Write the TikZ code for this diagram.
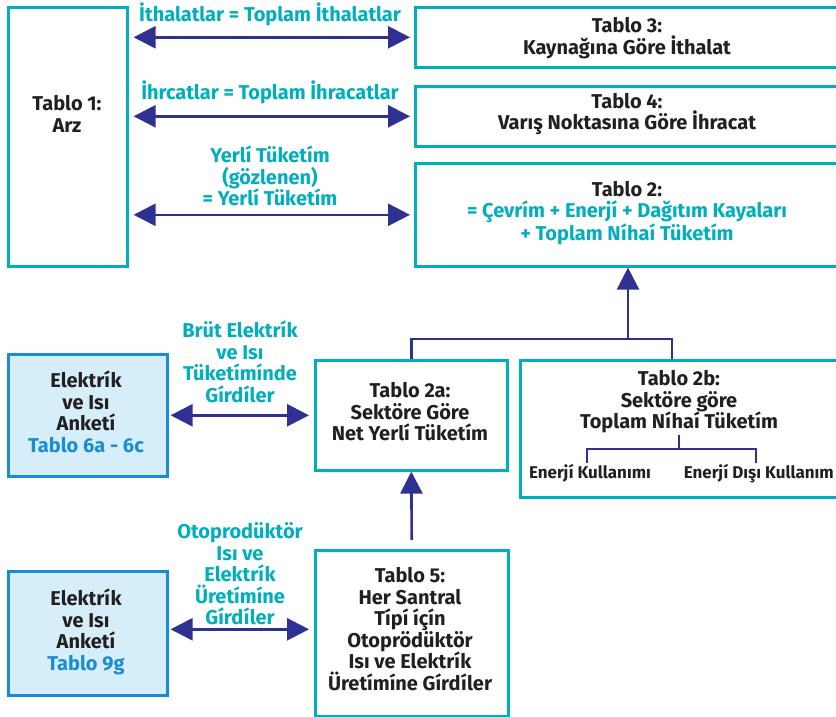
\documentclass[tikz,border=0pt]{standalone}
\usepackage{fontspec}
\setmainfont{Fira Sans}
\usetikzlibrary{arrows.meta}

\definecolor{teal}{RGB}{0,174,190}
\definecolor{navy}{RGB}{46,49,146}
\definecolor{paleblue}{RGB}{213,238,250}
\definecolor{boxblue}{RGB}{25,140,214}
\definecolor{darktext}{RGB}{35,31,32}

\tikzset{
  tbox/.style={draw=teal, line width=2.6pt, fill=white, inner sep=0pt, anchor=north west},
  sbox/.style={draw=boxblue, line width=2.6pt, fill=paleblue, inner sep=0pt, anchor=north west},
  boxtext/.style={align=center, text=darktext, inner sep=1pt, font=\bfseries\fontsize{20}{21.5}\selectfont},
  flowlabel/.style={align=center, text=teal, inner sep=1pt, font=\bfseries\fontsize{20}{21.5}\selectfont},
  smalltext/.style={text=darktext, inner sep=1pt, font=\bfseries\fontsize{17}{20}\selectfont},
  link/.style={draw=navy, line width=2.6pt},
  twoway/.style={link, {Triangle[length=22pt,width=22pt]}-{Triangle[length=22pt,width=22pt]}},
  oneway/.style={link, -{Triangle[length=22pt,width=22pt]}},
}

\begin{document}
\begin{tikzpicture}[x=1pt,y=-1pt]
\useasboundingbox (0,0) rectangle (836,717);
\clip (0,0) rectangle (836,717);

% upper block: supply table and the three tables it balances against
\node[tbox, minimum width=119pt, minimum height=259pt] (t1) at (7,6) {};
\node[boxtext] (t1txt) at (67,114) {Tablo 1:\\Arz};

\node[tbox, minimum width=430pt, minimum height=60pt] (t3) at (414,6) {};
\node[boxtext] (t3txt) at (627,38) {Tablo 3:\\Kaynağına Göre İthalat};

\node[tbox, minimum width=430pt, minimum height=60pt] (t4) at (414,85) {};
\node[boxtext] (t4txt) at (627,114) {Tablo 4:\\Varış Noktasına Göre İhracat};

\node[tbox, minimum width=430pt, minimum height=103pt] (t2) at (414,162) {};
\node[boxtext] (t2txt) at (627,213) {Tablo 2:\\{\color{teal}= Çevrím + Enerjí + Dağıtım Kayaları}\\{\color{teal}+ Toplam Níhaí Tüketím}};

\draw[twoway, shorten <=5pt, shorten >=4pt] (t3.west -| t1.east) -- (t3.west);
\draw[twoway, shorten <=5pt, shorten >=4pt] (t4.west -| t1.east) -- (t4.west);
\draw[twoway, shorten <=5pt, shorten >=4pt] (t2.west -| t1.east) -- (t2.west);

\node[flowlabel] (l1) at (270,14) {İthalatlar = Toplam İthalatlar};
\node[flowlabel] (l2) at (270,92) {İhrcatlar = Toplam İhracatlar};
\node[flowlabel] (l3) at (270,176) {Yerlí Tüketím\\(gözlenen)\\= Yerlí Tüketím};

% lower block: sector tables
\node[tbox, minimum width=192pt, minimum height=110pt] (t2a) at (314,359) {};
\node[boxtext] (t2atxt) at (410,412) {Tablo 2a:\\Sektöre Göre\\Net Yerlí Tüketím};

\node[tbox, minimum width=325pt, minimum height=137pt] (t2b) at (519,359) {};
\node[boxtext] (t2btxt) at (679,402) {Tablo 2b:\\Sektöre göre\\Toplam Níhaí Tüketím};
\node[smalltext, anchor=north] (en1) at (590,463) {Enerjí Kullanımı};
\node[smalltext, anchor=north east] (en2) at (835,463) {Enerjí Dışı Kullanım};
\coordinate (bj) at (t2btxt.south |- 0,449);
\draw[link, line width=2pt] (t2btxt.south) -- (bj);
\draw[link, line width=2pt] ([xshift=-3pt]en1.north) |- (bj) -| (en2.north -| 756,0);

% both sector tables feed table 2
\coordinate (j) at (628,339);
\draw[link] (t2a.north) |- (j);
\draw[link] ([xshift=-11pt]t2b.north) |- (j);
\draw[oneway] (j) -- (t2.south -| j);

\node[tbox, minimum width=193pt, minimum height=166pt] (t5) at (314,549) {};
\node[boxtext] (t5txt) at (410,629) {Tablo 5:\\Her Santral\\Típí íçín\\Otoprödüktör\\Isı ve Elektrík\\Üretímíne Gírdíler};
\draw[oneway, shorten <=9pt] (t5.north) -- (t2a.south);

% survey boxes on the left
\node[sbox, minimum width=159pt, minimum height=122pt] (e1) at (7,353) {};
\node[boxtext] (e1txt) at (86,412) {Elektrík\\ve Isı\\Anketí\\{\color{boxblue}Tablo 6a - 6c}};
\node[sbox, minimum width=159pt, minimum height=124pt] (e2) at (7,570) {};
\node[boxtext] (e2txt) at (86,632) {Elektrík\\ve Isı\\Anketí\\{\color{boxblue}Tablo 9g}};

\draw[twoway, shorten <=2pt, shorten >=5pt] (e1.east) -- (e1.east -| t2a.west);
\draw[twoway, shorten <=2pt, shorten >=5pt] ([yshift=4pt]e2.east) -- ([yshift=4pt]e2.east -| t5.west);

\node[flowlabel] (l4) at (240,362) {Brüt Elektrík\\ve Isı\\Tüketímínde\\Gírdíler};
\node[flowlabel] (l5) at (240,574) {Otoprodüktör\\Isı ve\\Elektrík\\Üretímíne\\Gírdíler};
\end{tikzpicture}
\end{document}
